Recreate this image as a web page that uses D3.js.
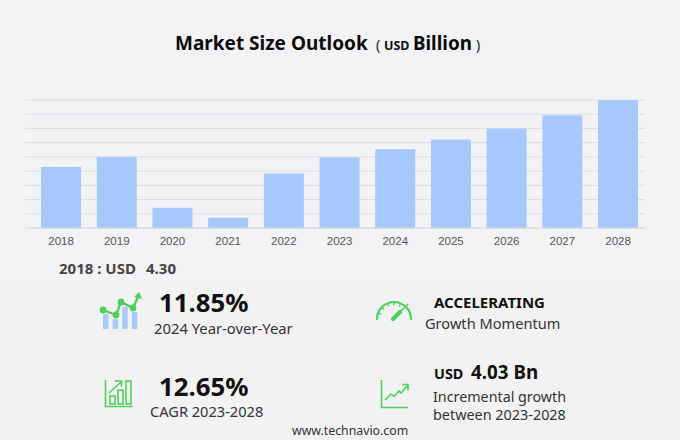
<!DOCTYPE html>
<html>
<head>
<meta charset="utf-8">
<script src="https://cdn.jsdelivr.net/npm/d3@7"></script>
<style>
  html, body { margin: 0; padding: 0; background: #f3f3f5; }
  svg { display: block; }
  text { font-family: "Noto Sans", "Open Sans", sans-serif; }
  .tick text { font-family: "Liberation Sans", Arial, sans-serif; }
</style>
</head>
<body>
<svg id="chart" width="680" height="440"></svg>
<script>
  var years = ['2018', '2019', '2020', '2021', '2022', '2023', '2024', '2025', '2026', '2027', '2028'];
  var sizes = [4.30, 5.00, 1.42, 0.72, 3.83, 4.96, 5.54, 6.22, 6.99, 7.92, 8.99];
  var gridValues = [1, 2, 3, 4, 5, 6, 7, 8, 9];
  var iconBars = [0.68, 0.45, 1, 0.77];

  var svg = d3.select('#chart');
  var green = '#4fd05c';

  svg.append('rect').attr('width', 680).attr('height', 440).attr('fill', '#f3f3f5');
  svg.append('rect').attr('y', 280).attr('width', 680).attr('height', 160).attr('fill', '#f2f2f3');

  var x = d3.scaleBand().domain(years).range([33.2, 645.9]).paddingInner(0.282).paddingOuter(0.141);
  var y = d3.scaleLinear().domain([0, 9]).range([228, 100]);

  // gridlines
  svg.append('g').selectAll('line')
    .data(gridValues)
    .enter()
    .append('line')
    .attr('x1', 25)
    .attr('x2', 645)
    .attr('y1', function (d) { return y(d); })
    .attr('y2', function (d) { return y(d); })
    .attr('stroke', '#dcdde1')
    .attr('stroke-width', 1);

  svg.append('g').selectAll('rect')
    .data(sizes)
    .enter()
    .append('rect')
    .attr('x', function (d, i) { return x(years[i]); })
    .attr('y', function (d) { return y(d); })
    .attr('width', x.bandwidth())
    .attr('height', function (d) { return y(0) - y(d); })
    .attr('fill', '#a6c8fd');

  var axis = svg.append('g')
    .attr('transform', 'translate(0,228)')
    .call(d3.axisBottom(x).tickSize(0).tickPadding(9));
  axis.select('.domain').remove();
  axis.selectAll('text').attr('font-size', 11.5).attr('fill', '#555');
  axis.append('line').attr('x1', 25).attr('x2', 645).attr('stroke', '#cfd0d4').attr('stroke-width', 1);

  function label(px, py, str, size, weight, color) {
    return svg.append('text')
      .attr('x', px)
      .attr('y', py)
      .attr('font-size', size)
      .attr('font-weight', weight)
      .attr('fill', color)
      .text(str);
  }

  // title
  label(175, 50, 'Market Size Outlook', 19, 700, '#0b0b0b');
  label(376, 50, '(', 14, 400, '#222');
  label(384, 50, 'USD', 12.5, 700, '#111');
  label(413, 50, 'Billion', 18.8, 700, '#0b0b0b');
  label(476, 50, ')', 14, 400, '#222');

  label(59, 274, '2018 : USD', 15, 700, '#444');
  label(146, 274, '4.30', 15, 700, '#444');

  // kpi text
  label(159, 312, '11.85%', 25.8, 700, '#111');
  label(154, 334, '2024 Year-over-Year', 14.8, 400, '#333');
  label(159, 396, '12.65%', 25.8, 700, '#111');
  label(150, 417, 'CAGR 2023-2028', 14.6, 400, '#333');
  label(434, 308, 'ACCELERATING', 15, 700, '#111');
  label(425, 329, 'Growth Momentum', 14.6, 400, '#333');
  label(434, 379, 'USD', 14.4, 700, '#111');
  label(471, 379, '4.03 Bn', 18.8, 700, '#111');
  label(433, 402, 'Incremental growth', 14.3, 400, '#333');
  label(433, 420, 'between 2023-2028', 14.4, 400, '#333');
  label(292, 435, 'www.technavio.com', 12.3, 400, '#333');

  // icon: bars with trend line
  var icon1 = svg.append('g').attr('transform', 'translate(100,292)');
  var iconY = d3.scaleLinear().domain([0, 1]).range([37, 15]);
  icon1.selectAll('rect')
    .data(iconBars)
    .enter()
    .append('rect')
    .attr('x', function (d, i) { return 3 + i * 9.6; })
    .attr('y', function (d) { return iconY(d); })
    .attr('width', 5.5)
    .attr('height', function (d) { return 37 - iconY(d); })
    .attr('fill', '#a9cbf8');
  var trend = [[3, 18], [16, 23], [21, 10], [33, 16], [38, 5]];
  icon1.append('path')
    .attr('d', d3.line()(trend))
    .attr('fill', 'none')
    .attr('stroke', green)
    .attr('stroke-width', 2.4);
  icon1.selectAll('circle')
    .data(trend.slice(0, 4))
    .enter()
    .append('circle')
    .attr('cx', function (d) { return d[0]; })
    .attr('cy', function (d) { return d[1]; })
    .attr('r', 3.4)
    .attr('fill', green);
  icon1.append('path').attr('d', 'M34,5L39,0L42,7Z').attr('fill', green);

  // icon: framed bars and arrow
  var icon2 = svg.append('g')
    .attr('transform', 'translate(105,380)')
    .attr('fill', 'none')
    .attr('stroke', green)
    .attr('stroke-width', 1.6);
  icon2.append('path').attr('d', 'M0.5,0V26.5H27.5');
  icon2.append('rect').attr('x', 5).attr('y', 16).attr('width', 5).attr('height', 8);
  icon2.append('rect').attr('x', 13).attr('y', 10).attr('width', 5).attr('height', 14);
  icon2.append('rect').attr('x', 21).attr('y', 1).attr('width', 5).attr('height', 23);
  icon2.append('path').attr('d', 'M4,13L16,2M10,1H16.5V7');

  // icon: gauge
  var icon3 = svg.append('g').attr('transform', 'translate(394,319)').attr('fill', 'none').attr('stroke', green);
  icon3.append('path')
    .attr('d', d3.arc()({ innerRadius: 17, outerRadius: 17, startAngle: -Math.PI / 2 - 0.05, endAngle: Math.PI / 2 + 0.05 }))
    .attr('stroke-width', 2.2);
  icon3.selectAll('line')
    .data([-1.2, -0.8, -0.4, 0, 0.4])
    .enter()
    .append('line')
    .attr('x1', function (d) { return 16.5 * Math.sin(d); })
    .attr('y1', function (d) { return -16.5 * Math.cos(d); })
    .attr('x2', function (d) { return 13.5 * Math.sin(d); })
    .attr('y2', function (d) { return -13.5 * Math.cos(d); })
    .attr('stroke-width', 1.3);
  icon3.append('path').attr('d', 'M-1,-0L14,-15').attr('stroke-width', 1.6);
  icon3.append('path').attr('d', 'M-1,0L6,-7').attr('stroke-width', 4.2).attr('stroke-linecap', 'round');

  // icon: axes and rising line
  var icon4 = svg.append('g')
    .attr('transform', 'translate(381,380)')
    .attr('fill', 'none')
    .attr('stroke', green)
    .attr('stroke-width', 1.6);
  icon4.append('path').attr('d', 'M0.5,0V27.5H27');
  icon4.append('path').attr('d', 'M4,20L10,14L13,16.5L18,11L20,13L27,5');
  icon4.append('path').attr('d', 'M21,4.5H27V10.5');
</script>
</body>
</html>
